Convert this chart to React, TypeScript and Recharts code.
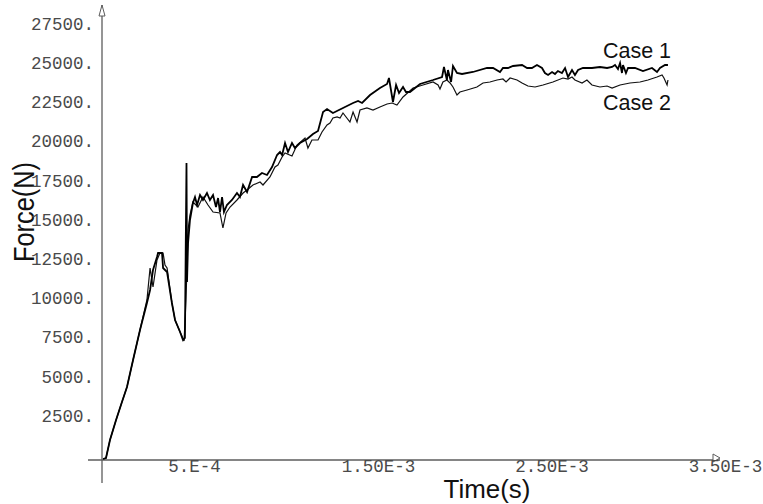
import React from "react";
import { LineChart, Line, XAxis, YAxis, ReferenceLine, ReferenceDot } from "recharts";

// time in ms (axis labels are in s), force in N
const case1Time = [
  0.006, 0.023, 0.046, 0.081, 0.115, 0.144, 0.179, 0.219, 0.259, 0.277, 0.294, 0.317, 0.323, 0.346, 0.352,
  0.375, 0.403, 0.421, 0.45, 0.467, 0.478, 0.487, 0.49, 0.496, 0.507, 0.524, 0.536, 0.548, 0.565, 0.582,
  0.605, 0.622, 0.64, 0.657, 0.669, 0.68, 0.692, 0.703, 0.72, 0.749, 0.778, 0.795, 0.813, 0.836, 0.865,
  0.893, 0.922, 0.951, 0.98, 1.009, 1.026, 1.038, 1.055, 1.072, 1.095, 1.112, 1.141, 1.182, 1.216, 1.245,
  1.274, 1.297, 1.331, 1.389, 1.447, 1.476, 1.499, 1.545, 1.602, 1.643, 1.654, 1.677, 1.695, 1.712, 1.735,
  1.752, 1.775, 1.833, 1.908, 1.96, 1.971, 1.988, 1.994, 2.012, 2.023, 2.046, 2.075, 2.138, 2.219, 2.254,
  2.294, 2.311, 2.34, 2.369, 2.421, 2.45, 2.478, 2.507, 2.536, 2.553, 2.571, 2.594, 2.611, 2.628, 2.651,
  2.669, 2.686, 2.709, 2.726, 2.744, 2.772, 2.824, 2.87, 2.911, 2.94, 2.957, 2.974, 2.986, 2.997, 3.003,
  3.02, 3.032, 3.072, 3.118, 3.17, 3.199, 3.216, 3.245, 3.262,
];
const case1Force = [
  64, 128, 1276, 2551, 3699, 4656, 6378, 8291, 10013, 10843, 12118, 12947, 13202, 13202, 12246,
  11991, 10013, 8929, 8164, 7654, 7781, 18943, 11353, 13840, 15307, 16391, 16774, 16264, 16902, 16583,
  17029, 16583, 16902, 16136, 16710, 15817, 16774, 15817, 16264, 16583, 17029, 16774, 17540, 17093, 18050,
  18050, 18305, 18177, 18688, 19453, 19644, 19453, 20218, 19644, 20218, 19899, 20218, 20473, 20792, 20984,
  22195, 22387, 22132, 22451, 22769, 22897, 22769, 23280, 23726, 23981, 24364, 22833, 23918, 23407, 23790,
  23471, 23471, 23981, 24236, 24428, 25066, 24236, 24874, 24109, 25130, 24683, 24619, 24747, 25002, 25002,
  24747, 25002, 25002, 25130, 25193, 25002, 25002, 25193, 25002, 24683, 24555, 24747, 24619, 24811, 24683,
  25002, 24428, 24874, 24555, 24874, 25002, 25002, 25066, 25002, 25066, 25193, 24938, 25321, 24683, 25193,
  24683, 25002, 25002, 24811, 25002, 24747, 25002, 25193, 25193,
];

const case2Time = [
  0.006, 0.023, 0.046, 0.081, 0.115, 0.144, 0.179, 0.219, 0.259, 0.277, 0.294, 0.317, 0.334, 0.352, 0.363,
  0.375, 0.403, 0.421, 0.45, 0.473, 0.484, 0.496, 0.507, 0.524, 0.553, 0.582, 0.611, 0.64, 0.68, 0.697,
  0.715, 0.738, 0.778, 0.813, 0.836, 0.87, 0.911, 0.928, 0.968, 0.997, 1.014, 1.038, 1.055, 1.095, 1.124,
  1.17, 1.187, 1.21, 1.245, 1.268, 1.297, 1.314, 1.331, 1.355, 1.372, 1.389, 1.429, 1.447, 1.47, 1.487,
  1.527, 1.562, 1.602, 1.643, 1.672, 1.7, 1.735, 1.793, 1.85, 1.908, 1.937, 1.948, 1.965, 1.988, 2.006,
  2.023, 2.046, 2.063, 2.104, 2.161, 2.196, 2.236, 2.277, 2.311, 2.329, 2.352, 2.392, 2.421, 2.455, 2.496,
  2.542, 2.599, 2.657, 2.686, 2.709, 2.726, 2.767, 2.795, 2.824, 2.87, 2.911, 2.94, 2.986, 3.043, 3.101,
  3.147, 3.199, 3.228, 3.239, 3.257, 3.262,
];
const case2Force = [
  64, 128, 1276, 2551, 3699, 4656, 6378, 8291, 10205, 12246, 11034, 12756, 13202, 13202, 12437,
  12246, 10013, 8929, 8164, 7590, 10205, 14669, 15626, 16455, 16136, 16774, 16264, 15817, 15754, 14797,
  15754, 16136, 16583, 17029, 17221, 17540, 17731, 17540, 18050, 18688, 18815, 19325, 19580, 19389, 20091,
  20537, 19899, 20410, 20410, 20920, 21366, 21494, 21813, 21877, 21813, 22132, 21558, 22195, 21558, 22323,
  22451, 22323, 22514, 22706, 22769, 22642, 23152, 23726, 23918, 24109, 23918, 23662, 24109, 24236, 24045,
  23790, 23280, 23471, 23599, 23790, 24045, 24109, 24236, 24300, 24109, 24364, 24236, 24045, 23854, 23790,
  23918, 24109, 24364, 24300, 24428, 24236, 24045, 24236, 23918, 23790, 23854, 23726, 23918, 24045, 24109,
  24236, 24428, 24555, 24364, 23918, 24236,
];

const seriesNames = ["Case 1", "Case 2"];

const xTicks = [0.5, 1.5, 2.5, 3.5];
const xTickLabels = ["5.E-4", "1.50E-3", "2.50E-3", "3.50E-3"];
const yTicks = [2500, 5000, 7500, 10000, 12500, 15000, 17500, 20000, 22500, 25000, 27500];
const yTickLabels = ["2500.", "5000.", "7500.", "10000.", "12500.", "15000.", "17500.", "20000.", "22500.", "25000.", "27500."];

const X_MIN = -0.0807;
const X_MAX = 3.562;
const Y_MIN = -1467;
const Y_MAX = 29020;

const toRows = (t: number[], f: number[]) => t.map((v, i) => ({ t: v, f: f[i] }));
const rows1 = toRows(case1Time, case1Force);
const rows2 = toRows(case2Time, case2Force);

const AXIS = "#5c5c5c";
const TICK_FONT = "'Liberation Mono', 'Courier New', monospace";
const TITLE_FONT = "'Liberation Sans', Arial, sans-serif";

export default function App() {
  const last1 = rows1[rows1.length - 1];
  const last2 = rows2[rows2.length - 1];
  return (
    <div style={{ position: "absolute", left: 0, top: 0, background: "#fff" }}>
      <LineChart width={763} height={504} margin={{ top: 5, right: 43, bottom: 21, left: 88 }}>
        <XAxis type="number" dataKey="t" domain={[X_MIN, X_MAX]} allowDataOverflow hide />
        <YAxis type="number" domain={[Y_MIN, Y_MAX]} allowDataOverflow hide />

        <ReferenceLine x={0} stroke={AXIS} strokeWidth={1.3} />
        <ReferenceLine y={0} stroke={AXIS} strokeWidth={1.3} />

        {/* arrow heads */}
        <ReferenceDot
          x={0}
          y={Y_MAX}
          ifOverflow="visible"
          shape={(p: any) => (
            <path d={`M${p.cx},${p.cy} L${p.cx - 3},${p.cy + 11} L${p.cx + 3},${p.cy + 11} Z`} fill="#fff" stroke={AXIS} strokeWidth={1} />
          )}
        />
        <ReferenceDot
          x={X_MAX}
          y={0}
          ifOverflow="visible"
          shape={(p: any) => (
            <path d={`M${p.cx},${p.cy - 2} L${p.cx - 7},${p.cy - 6} L${p.cx - 7},${p.cy + 2} Z`} fill="#fff" stroke={AXIS} strokeWidth={1} />
          )}
        />

        {xTicks.map((v, i) => (
          <ReferenceDot
            key={`xt${i}`}
            x={v}
            y={0}
            ifOverflow="visible"
            shape={(p: any) => (
              <text x={p.cx - 20.5} y={p.cy + 12} fontFamily={TICK_FONT} fontSize={17.5} fill="#4a4a4a" textAnchor="start">
                {xTickLabels[i]}
              </text>
            )}
          />
        ))}
        {yTicks.map((v, i) => (
          <ReferenceDot
            key={`yt${i}`}
            x={0}
            y={v}
            ifOverflow="visible"
            shape={(p: any) => (
              <text x={p.cx - 8} y={p.cy + 1} fontFamily={TICK_FONT} fontSize={17.5} fill="#4a4a4a" textAnchor="end">
                {yTickLabels[i]}
              </text>
            )}
          />
        ))}

        <Line data={rows2} dataKey="f" type="linear" stroke="#111" strokeWidth={1.2} dot={false} isAnimationActive={false} />
        <Line data={rows1} dataKey="f" type="linear" stroke="#000" strokeWidth={1.8} dot={false} isAnimationActive={false} />

        {/* series names next to the line ends */}
        <ReferenceDot
          x={last1.t}
          y={last1.f}
          ifOverflow="visible"
          shape={(p: any) => (
            <text x={p.cx - 65} y={p.cy - 7} fontFamily={TITLE_FONT} fontSize={21.5} fill="#111">
              {seriesNames[0]}
            </text>
          )}
        />
        <ReferenceDot
          x={last2.t}
          y={last2.f}
          ifOverflow="visible"
          shape={(p: any) => (
            <text x={p.cx - 65} y={p.cy + 30} fontFamily={TITLE_FONT} fontSize={21.5} fill="#111">
              {seriesNames[1]}
            </text>
          )}
        />

        <text
          x={0}
          y={0}
          transform="translate(34,212) rotate(-90)"
          textAnchor="middle"
          fontFamily={TITLE_FONT}
          fontSize={29}
          textLength={100}
          lengthAdjust="spacingAndGlyphs"
          fill="#111"
        >
          Force(N)
        </text>
        <text
          x={487}
          y={498}
          textAnchor="middle"
          fontFamily={TITLE_FONT}
          fontSize={26}
          textLength={87}
          lengthAdjust="spacingAndGlyphs"
          fill="#111"
        >
          Time(s)
        </text>
      </LineChart>
    </div>
  );
}
